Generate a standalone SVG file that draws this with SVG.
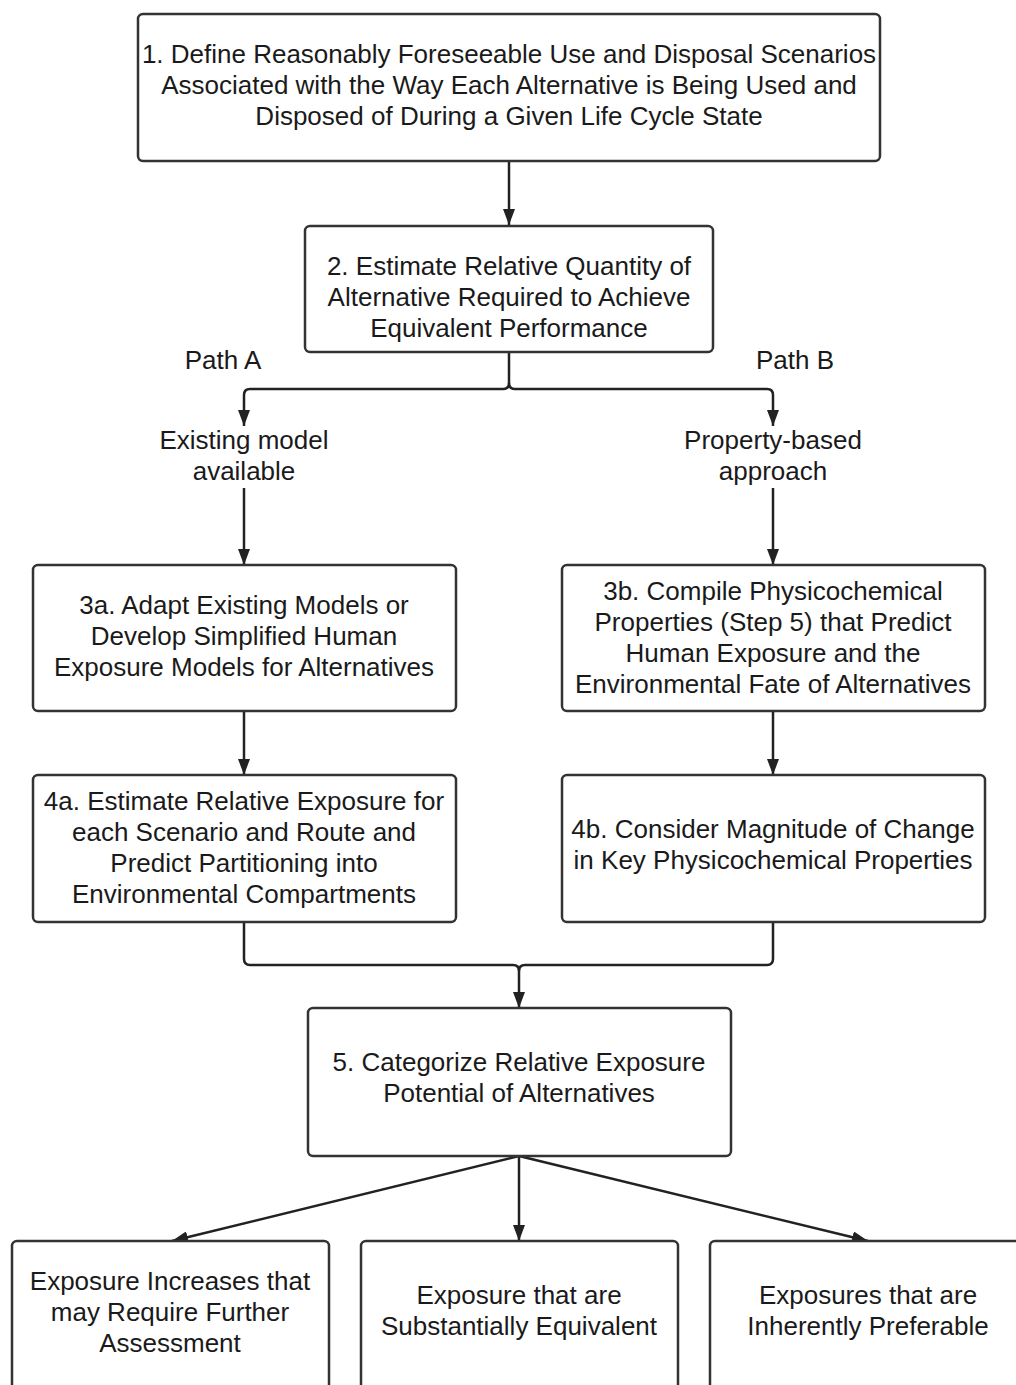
<svg xmlns="http://www.w3.org/2000/svg" width="1016" height="1385" viewBox="0 0 1016 1385">
  <defs>
    <style>
      .box { fill: #ffffff; stroke: #333333; stroke-width: 2.5; }
      .wire { fill: none; stroke: #222222; stroke-width: 2.5; }
      text { font-family: "Liberation Sans", Arial, sans-serif; font-size: 26px; fill: #1a1a1a; text-anchor: middle; }
    </style>
    <marker id="arrow" viewBox="0 0 16 12" refX="16" refY="6" markerWidth="16" markerHeight="12" markerUnits="userSpaceOnUse" orient="auto">
      <path d="M0,0 L16,6 L0,12 Z" fill="#222222"/>
    </marker>
  </defs>
  <rect width="1016" height="1385" fill="#ffffff"/>

  <g id="connectors">
    <path class="wire" d="M509,161 L509,225" marker-end="url(#arrow)"/>
    <path class="wire" d="M509,352 L509,383 Q509,389 503,389 L250,389 Q244,389 244,395 L244,426" marker-end="url(#arrow)"/>
    <path class="wire" d="M509,383 Q509,389 515,389 L767,389 Q773,389 773,395 L773,426" marker-end="url(#arrow)"/>
    <path class="wire" d="M244,488 L244,565" marker-end="url(#arrow)"/>
    <path class="wire" d="M773,488 L773,565" marker-end="url(#arrow)"/>
    <path class="wire" d="M244,711 L244,775" marker-end="url(#arrow)"/>
    <path class="wire" d="M773,711 L773,775" marker-end="url(#arrow)"/>
    <path class="wire" d="M244,922 L244,959 Q244,965 250,965 L513,965 Q519,965 519,971 L519,1008" marker-end="url(#arrow)"/>
    <path class="wire" d="M773,922 L773,959 Q773,965 767,965 L525,965 Q519,965 519,971"/>
    <path class="wire" d="M519,1156 L172,1241" marker-end="url(#arrow)"/>
    <path class="wire" d="M519,1156 L519,1241" marker-end="url(#arrow)"/>
    <path class="wire" d="M519,1156 L868,1241" marker-end="url(#arrow)"/>
  </g>

  <g id="step1">
    <rect class="box" x="138" y="14" width="742" height="147" rx="5"/>
    <text x="509" y="63">1. Define Reasonably Foreseeable Use and Disposal Scenarios</text>
    <text x="509" y="94">Associated with the Way Each Alternative is Being Used and</text>
    <text x="509" y="125">Disposed of During a Given Life Cycle State</text>
  </g>

  <g id="step2">
    <rect class="box" x="305" y="226" width="408" height="126" rx="5"/>
    <text x="509" y="275">2. Estimate Relative Quantity of</text>
    <text x="509" y="306">Alternative Required to Achieve</text>
    <text x="509" y="337">Equivalent Performance</text>
  </g>

  <g id="label-path-a">
    <text x="223" y="369">Path A</text>
  </g>
  <g id="label-path-b">
    <text x="795" y="369">Path B</text>
  </g>

  <g id="label-existing-model">
    <text x="244" y="449">Existing model</text>
    <text x="244" y="480">available</text>
  </g>
  <g id="label-property-based">
    <text x="773" y="449">Property-based</text>
    <text x="773" y="480">approach</text>
  </g>

  <g id="step3a">
    <rect class="box" x="33" y="565" width="423" height="146" rx="5"/>
    <text x="244" y="614">3a. Adapt Existing Models or</text>
    <text x="244" y="645">Develop Simplified Human</text>
    <text x="244" y="676">Exposure Models for Alternatives</text>
  </g>

  <g id="step3b">
    <rect class="box" x="562" y="565" width="423" height="146" rx="5"/>
    <text x="773" y="600">3b. Compile Physicochemical</text>
    <text x="773" y="631">Properties (Step 5) that Predict</text>
    <text x="773" y="662">Human Exposure and the</text>
    <text x="773" y="693">Environmental Fate of Alternatives</text>
  </g>

  <g id="step4a">
    <rect class="box" x="33" y="775" width="423" height="147" rx="5"/>
    <text x="244" y="810">4a. Estimate Relative Exposure for</text>
    <text x="244" y="841">each Scenario and Route and</text>
    <text x="244" y="872">Predict Partitioning into</text>
    <text x="244" y="903">Environmental Compartments</text>
  </g>

  <g id="step4b">
    <rect class="box" x="562" y="775" width="423" height="147" rx="5"/>
    <text x="773" y="838">4b. Consider Magnitude of Change</text>
    <text x="773" y="869">in Key Physicochemical Properties</text>
  </g>

  <g id="step5">
    <rect class="box" x="308" y="1008" width="423" height="148" rx="5"/>
    <text x="519" y="1071">5. Categorize Relative Exposure</text>
    <text x="519" y="1102">Potential of Alternatives</text>
  </g>

  <g id="outcome-increase">
    <rect class="box" x="12" y="1241" width="317" height="170" rx="5"/>
    <text x="170" y="1290">Exposure Increases that</text>
    <text x="170" y="1321">may Require Further</text>
    <text x="170" y="1352">Assessment</text>
  </g>

  <g id="outcome-equivalent">
    <rect class="box" x="361" y="1241" width="317" height="170" rx="5"/>
    <text x="519" y="1304">Exposure that are</text>
    <text x="519" y="1335">Substantially Equivalent</text>
  </g>

  <g id="outcome-preferable">
    <rect class="box" x="710" y="1241" width="330" height="170" rx="5"/>
    <text x="868" y="1304">Exposures that are</text>
    <text x="868" y="1335">Inherently Preferable</text>
  </g>
</svg>
